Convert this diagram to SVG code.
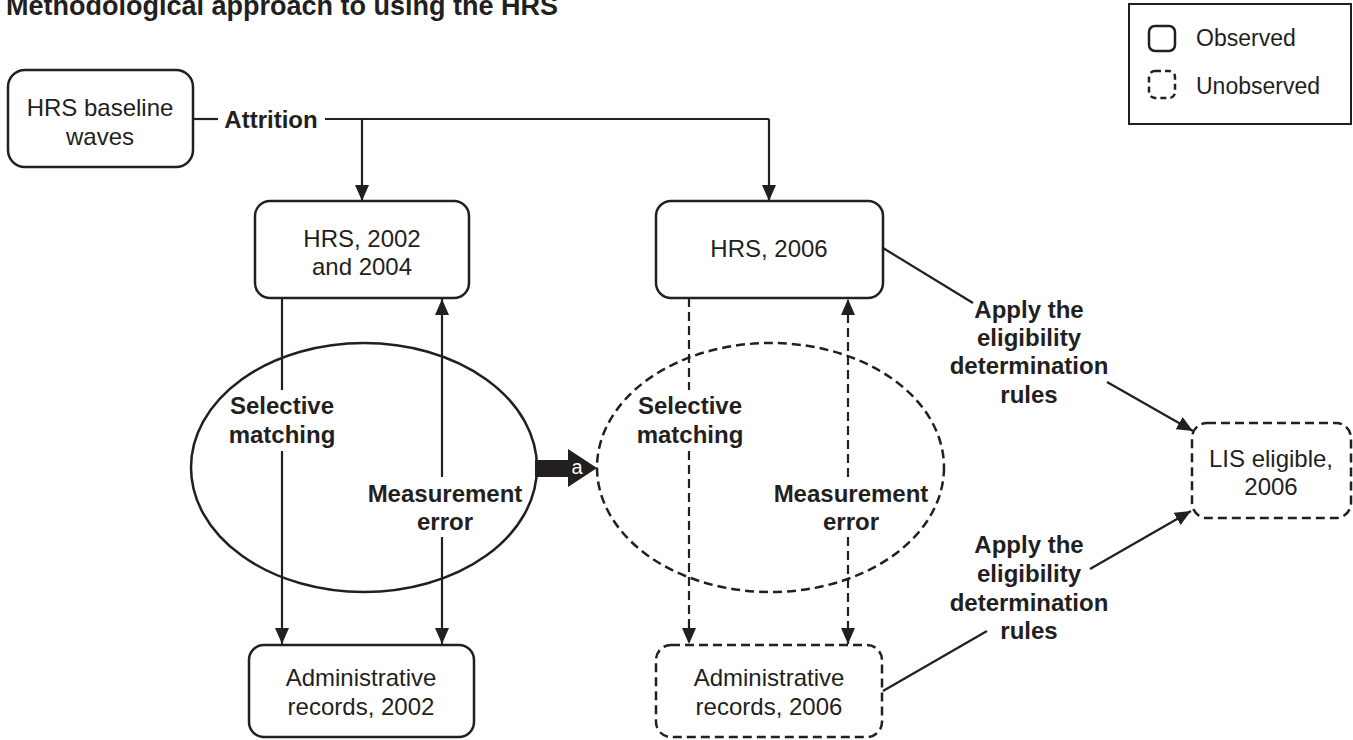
<svg xmlns="http://www.w3.org/2000/svg" width="1353" height="740" viewBox="0 0 1353 740">
<style>
.box{fill:#fff;stroke:#231f20;stroke-width:2.5}
.dash{stroke-dasharray:9 5}
.ln{fill:none;stroke:#231f20;stroke-width:2.2}
.t{font-family:"Liberation Sans",Arial,sans-serif;font-size:24px;fill:#231f20;text-anchor:middle}
.b{font-weight:bold}
</style>
<defs>
<marker id="ah" markerUnits="userSpaceOnUse" markerWidth="16" markerHeight="14" refX="16" refY="7" orient="auto">
<path d="M0,0 L16,7 L0,14 Z" fill="#231f20"/>
</marker>
</defs>
<rect width="1353" height="740" fill="#fff"/>
<text x="6" y="15" class="t b" style="text-anchor:start;font-size:27px">Methodological approach to using the HRS</text>

<g id="legend">
<rect x="1129" y="4" width="222" height="120" fill="#fff" stroke="#231f20" stroke-width="2"/>
<rect x="1149" y="26" width="26" height="25" rx="6" class="box"/>
<rect x="1149" y="71" width="26" height="27" rx="6" class="box" style="stroke-dasharray:6 4"/>
<text x="1196" y="46" class="t" style="text-anchor:start;font-size:23px">Observed</text>
<text x="1196" y="94" class="t" style="text-anchor:start;font-size:23px">Unobserved</text>
</g>

<g id="connectors">
<path class="ln" d="M193,119 H218"/>
<path class="ln" d="M325,119 H769"/>
<path class="ln" d="M362,119 V201" marker-end="url(#ah)"/>
<path class="ln" d="M769,119 V201" marker-end="url(#ah)"/>
<path class="ln" d="M282,298 V390"/>
<path class="ln" d="M282,451 V644" marker-end="url(#ah)"/>
<path class="ln" d="M442,537 V644" marker-end="url(#ah)"/>
<path class="ln" d="M442,477 V299" marker-end="url(#ah)"/>
<path class="ln dash" d="M689,298 V390"/>
<path class="ln dash" d="M689,451 V644" marker-end="url(#ah)"/>
<path class="ln dash" d="M848,537 V644" marker-end="url(#ah)"/>
<path class="ln dash" d="M848,477 V299" marker-end="url(#ah)"/>
<path class="ln" d="M883,248 L973,303"/>
<path class="ln" d="M1107,382 L1193,431" marker-end="url(#ah)"/>
<path class="ln" d="M883,691 L987,631"/>
<path class="ln" d="M1090,569 L1191,511" marker-end="url(#ah)"/>
<path d="M535,460 H568 V449 L597,468 L568,487 V477 H535 Z" fill="#231f20"/>
<text x="577" y="474" class="t" style="fill:#fff;font-size:20px">a</text>
</g>

<g id="attrition-label"><text x="271" y="128" class="t b">Attrition</text></g>

<g id="baseline">
<rect x="8" y="70" width="185" height="97" rx="17" class="box"/>
<text x="100" y="116" class="t">HRS baseline</text>
<text x="100" y="145" class="t">waves</text>
</g>

<g id="hrs2002">
<rect x="255" y="201" width="214" height="97" rx="15" class="box"/>
<text x="362" y="247" class="t">HRS, 2002</text>
<text x="362" y="275" class="t">and 2004</text>
</g>

<g id="hrs2006">
<rect x="656" y="201" width="227" height="97" rx="15" class="box"/>
<text x="769" y="257" class="t">HRS, 2006</text>
</g>

<g id="ellipse2002">
<ellipse cx="364" cy="467.5" rx="173" ry="124.5" fill="none" stroke="#231f20" stroke-width="2.5"/>
<text x="282" y="414" class="t b">Selective</text>
<text x="282" y="443" class="t b">matching</text>
<text x="445" y="502" class="t b">Measurement</text>
<text x="445" y="530" class="t b">error</text>
</g>

<g id="ellipse2006">
<ellipse cx="770.5" cy="467.5" rx="173.5" ry="124.5" fill="none" stroke="#231f20" stroke-width="2.5" class="dash"/>
<text x="690" y="414" class="t b">Selective</text>
<text x="690" y="443" class="t b">matching</text>
<text x="851" y="502" class="t b">Measurement</text>
<text x="851" y="530" class="t b">error</text>
</g>

<g id="admin2002">
<rect x="249" y="645" width="225" height="92" rx="15" class="box"/>
<text x="361" y="686" class="t">Administrative</text>
<text x="361" y="715" class="t">records, 2002</text>
</g>

<g id="admin2006">
<rect x="656" y="645" width="226" height="92" rx="15" class="box dash"/>
<text x="769" y="686" class="t">Administrative</text>
<text x="769" y="715" class="t">records, 2006</text>
</g>

<g id="lis">
<rect x="1192" y="423" width="159" height="95" rx="15" class="box dash"/>
<text x="1271" y="467" class="t">LIS eligible,</text>
<text x="1271" y="495" class="t">2006</text>
</g>

<g id="rules-upper">
<text x="1029" y="318" class="t b">Apply the</text>
<text x="1029" y="346" class="t b">eligibility</text>
<text x="1029" y="374" class="t b">determination</text>
<text x="1029" y="403" class="t b">rules</text>
</g>

<g id="rules-lower">
<text x="1029" y="553" class="t b">Apply the</text>
<text x="1029" y="582" class="t b">eligibility</text>
<text x="1029" y="611" class="t b">determination</text>
<text x="1029" y="639" class="t b">rules</text>
</g>
</svg>
